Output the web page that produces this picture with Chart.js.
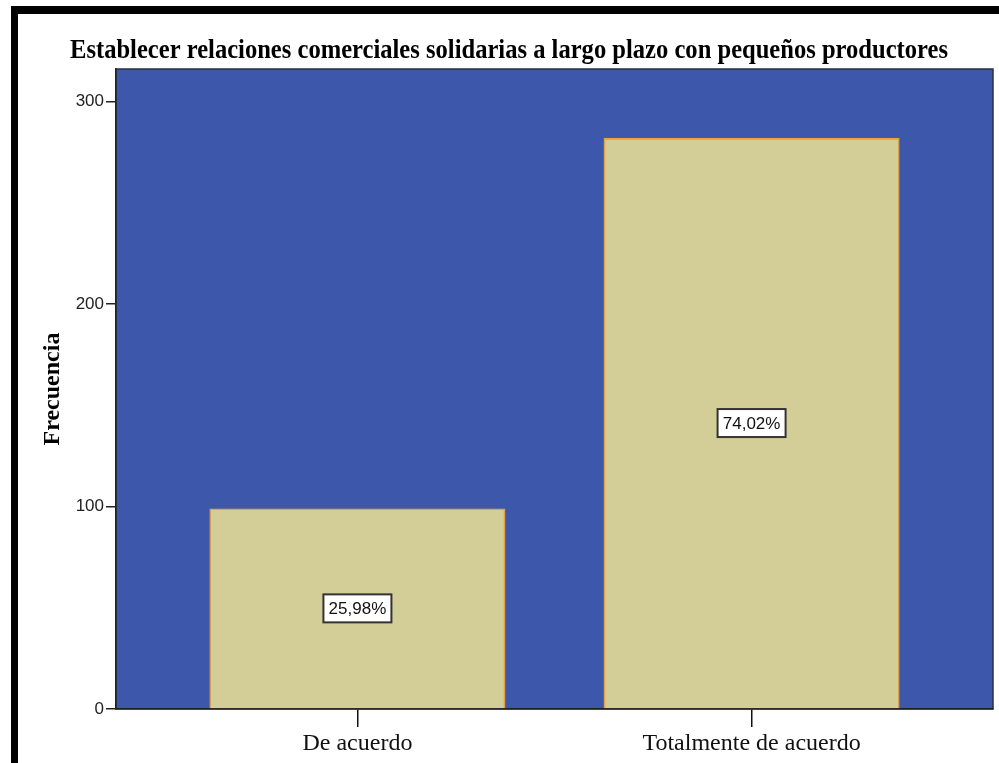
<!DOCTYPE html>
<html>
<head>
<meta charset="utf-8">
<script src="https://cdn.jsdelivr.net/npm/chart.js@4"></script>
<style>
  html, body { margin: 0; padding: 0; background: #ffffff; }
  #wrap { position: relative; width: 999px; height: 763px; }
</style>
</head>
<body>
<div id="wrap"><canvas id="grafico" width="999" height="763"></canvas></div>
<script>
// Datos del gráfico
const categories = ['De acuerdo', 'Totalmente de acuerdo'];
const frecuencias = [99, 282];
const porcentajes = ['25,98%', '74,02%'];
const yTicks = [0, 100, 200, 300];
const chartTitle = 'Establecer relaciones comerciales solidarias a largo plazo con pequeños productores';
const yTitle = 'Frecuencia';

// Marco negro, fondo azul del área de trazado y su borde
const fondoPlugin = {
  id: 'fondo',
  beforeDraw(chart) {
    const c = chart.ctx;
    const a = chart.chartArea;
    c.save();
    c.fillStyle = '#000000';
    c.fillRect(11, 6, 988, 8);
    c.fillRect(11, 6, 7, 757);
    c.fillStyle = '#3D58AB';
    c.fillRect(a.left, a.top, a.right - a.left, a.bottom - a.top);
    c.strokeStyle = '#2b2f45';
    c.lineWidth = 1.5;
    c.strokeRect(a.left, a.top, a.right - a.left, a.bottom - a.top);
    c.restore();
  }
};

// Título en negrita, comprimido para caber en el ancho disponible
const tituloPlugin = {
  id: 'titulo',
  afterDraw(chart) {
    const c = chart.ctx;
    c.save();
    c.font = 'bold 27px "Liberation Serif"';
    c.fillStyle = '#000000';
    c.textBaseline = 'alphabetic';
    c.textAlign = 'center';
    const w = c.measureText(chartTitle).width;
    const sx = Math.min(1, 878 / w);
    c.translate(509, 58);
    c.scale(sx, 1);
    c.fillText(chartTitle, 0, 0);
    c.restore();
  }
};

// Etiquetas de porcentaje en recuadro blanco, centradas en cada barra
const etiquetasPlugin = {
  id: 'etiquetas',
  afterDatasetsDraw(chart) {
    const c = chart.ctx;
    const meta = chart.getDatasetMeta(0);
    c.save();
    c.font = '17px "Liberation Sans"';
    c.textAlign = 'center';
    c.textBaseline = 'middle';
    meta.data.forEach((bar, i) => {
      const x = bar.x;
      const y = (bar.y + bar.base) / 2;
      const bw = 68, bh = 28;
      c.fillStyle = '#ffffff';
      c.fillRect(x - bw / 2, y - bh / 2, bw, bh);
      c.strokeStyle = '#333333';
      c.lineWidth = 2;
      c.strokeRect(x - bw / 2, y - bh / 2, bw, bh);
      c.fillStyle = '#111111';
      c.fillText(porcentajes[i], x, y + 1);
    });
    c.restore();
  }
};

const ctx = document.getElementById('grafico').getContext('2d');
new Chart(ctx, {
  type: 'bar',
  data: {
    datasets: [{
      data: frecuencias.map((v, i) => ({ x: i + 1, y: v })),
      backgroundColor: '#D3CE98',
      borderColor: '#E9A043',
      borderWidth: 1.5,
      categoryPercentage: 1,
      barPercentage: 0.751
    }]
  },
  options: {
    responsive: false,
    animation: false,
    events: [],
    layout: { padding: { top: 69, right: 6, left: 0, bottom: 0 } },
    plugins: {
      legend: { display: false },
      tooltip: { enabled: false },
      title: { display: false }
    },
    scales: {
      x: {
        type: 'linear',
        min: 0.3875,
        max: 2.6125,
        offset: false,
        afterBuildTicks: s => { s.ticks = categories.map((c, i) => ({ value: i + 1 })); },
        afterFit: s => { s.height = 54; },
        ticks: {
          callback: v => categories[v - 1],
          font: { family: 'Liberation Serif', size: 24 },
          color: '#111111',
          padding: 2,
          autoSkip: false,
          maxRotation: 0
        },
        grid: { drawOnChartArea: false, offset: false, tickLength: 18, color: '#111111', lineWidth: 1.5 },
        border: { color: '#222222', width: 1.5 }
      },
      y: {
        min: 0,
        max: 316,
        afterBuildTicks: s => { s.ticks = yTicks.map(v => ({ value: v })); },
        afterFit: s => { s.width = 116; },
        ticks: {
          font: { family: 'Liberation Sans', size: 17 },
          color: '#222222',
          padding: 2
        },
        grid: { drawOnChartArea: false, tickLength: 10, color: '#222222', lineWidth: 1.5 },
        border: { color: '#222222', width: 1.5 },
        title: {
          display: true,
          text: yTitle,
          color: '#000000',
          font: { family: 'Liberation Serif', size: 24, weight: 'bold' },
          padding: { top: 38.6, bottom: 0 }
        }
      }
    }
  },
  plugins: [fondoPlugin, tituloPlugin, etiquetasPlugin]
});
</script>
</body>
</html>
